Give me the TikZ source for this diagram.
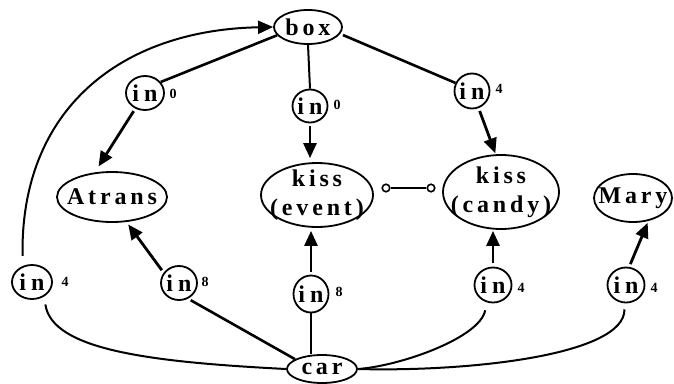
\documentclass[tikz,border=0pt]{standalone}
\usepackage{fontspec}
\setmainfont{Liberation Serif}[LetterSpace=16]
\usetikzlibrary{arrows.meta, shapes.geometric}

\begin{document}
\begin{tikzpicture}[x=1pt, y=-1pt,
  concept/.style={ellipse, draw, line width=1.8pt, inner sep=-10pt, align=center,
    font=\fontsize{24}{29}\selectfont\bfseries},
  role/.style={ellipse, draw, line width=1.8pt, inner sep=-8pt,
    font=\fontsize{24}{24}\selectfont\bfseries},
  idx/.style={inner sep=0pt, font=\fontsize{14}{14}\selectfont\bfseries},
  link/.style={line width=2.6pt},
  thinlink/.style={line width=2pt},
  arr/.style={line width=2.8pt, -{Triangle[length=15pt, width=13pt]}},
  knob/.style={circle, draw, line width=1.6pt, fill=white, inner sep=0pt, minimum size=7.5pt}
]
\useasboundingbox (0,0) rectangle (674,383);

% concept nodes
\node[concept, minimum width=68pt, minimum height=34pt] (box) at (308,27) {box};
\node[concept, minimum width=110pt, minimum height=50pt] (atrans) at (112,197) {Atrans};
\node[concept, minimum width=112pt, minimum height=64pt] (event) at (317,195) {kiss\\(event)};
\node[concept, minimum width=116pt, minimum height=74pt] (candy) at (501,192) {kiss\\(candy)};
\node[concept, minimum width=78pt, minimum height=48pt] (mary) at (633,198) {Mary};
\node[concept, minimum width=70pt, minimum height=28pt] (car) at (322,369) {car};

% role nodes
\node[role, minimum width=38pt, minimum height=34pt] (inA0) at (145,93) {i\kern5pt n};
\node[role, minimum width=35pt, minimum height=33pt] (inM0) at (310,106) {i\kern5pt n};
\node[role, minimum width=35pt, minimum height=35pt] (inR4) at (472,91) {i\kern5pt n};
\node[role, minimum width=40pt, minimum height=34pt] (inL4) at (32,282) {i\kern5pt n};
\node[role, minimum width=36pt, minimum height=34pt] (inL8) at (179,283) {i\kern5pt n};
\node[role, minimum width=35pt, minimum height=37pt] (inM8) at (311,294) {i\kern5pt n};
\node[role, minimum width=37pt, minimum height=35pt] (inC4) at (493,285) {i\kern5pt n};
\node[role, minimum width=37pt, minimum height=35pt] (inY4) at (626,285) {i\kern5pt n};

% indices
\node[idx] (nA0) at (173,94) {0};
\node[idx] (nM0) at (337,105) {0};
\node[idx] (nR4) at (499,89) {4};
\node[idx] (nL4) at (65,282) {4};
\node[idx] (nL8) at (205,282) {8};
\node[idx] (nM8) at (339,292) {8};
\node[idx] (nC4) at (521,288) {4};
\node[idx] (nY4) at (654,288) {4};

% links from box
\draw[link] (box.195) -- (inA0.35);
\draw[arr, shorten <=3pt, shorten >=7pt] (inA0.-122) -- (atrans.125);
\draw[thinlink] (box.south) -- (inM0.north);
\draw[arr, shorten <=3pt, shorten >=4pt] (inM0.south) -- (inM0.south |- event.north);
\draw[link, shorten <=3pt] (box.-12) -- (inR4.154);
\draw[arr, shorten <=3pt, shorten >=1pt] (inR4.-69) -- (candy.98);

% links from car
\draw[thinlink, shorten <=10pt, -{Triangle[length=15pt, width=13pt]}]
  (inL4.120) .. controls (20,110) and (120,30) .. (box.west);
\draw[thinlink, shorten >=8pt]
  (car.west) .. controls (150,362) and (52,350) .. (inL4.-50);
\draw[link, shorten >=3pt] (car.160) -- (inL8.-60);
\draw[arr, shorten <=3pt, shorten >=3pt] (inL8.146) -- (atrans.-60);
\draw[thinlink] (inM8.south |- car.north) -- (inM8.south);
\draw[arr, shorten <=3pt, shorten >=3pt] (inM8.north) -- (inM8.north |- event.south);
\draw[thinlink, shorten >=8pt]
  (car.east) .. controls (400,366) and (480,338) .. (inC4.-110);
\draw[arr, shorten <=4pt, shorten >=1pt] (inC4.north) -- (inC4.north |- candy.south);
\draw[thinlink, shorten >=6pt]
  (car.east) .. controls (470,372) and (625,355) .. (inY4.-95);
\draw[arr, shorten <=3pt, shorten >=2pt] (inY4.80) -- (mary.-56);

% link between the two kiss concepts
\node[knob] (k1) at (386,188) {};
\node[knob] (k2) at (431,188) {};
\draw[thinlink] (k1) -- (k2);
\end{tikzpicture}
\end{document}
